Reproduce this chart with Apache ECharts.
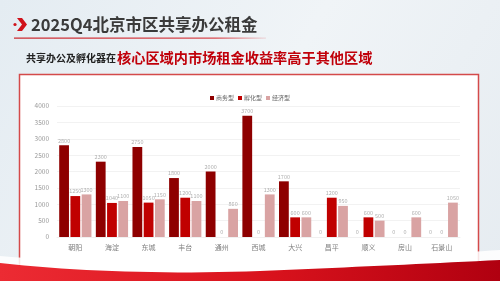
<!DOCTYPE html>
<html>
<head>
<meta charset="utf-8">
<script src="https://cdn.jsdelivr.net/npm/echarts@6/dist/echarts.min.js"></script>
<style>
  html, body { margin: 0; padding: 0; background: #ffffff; }
  #chart { width: 500px; height: 281px; }
</style>
</head>
<body>
<div id="chart"></div>
<script>
// 2025Q4 Beijing shared-office rents by district and type
const districts = ['朝阳', '海淀', '东城', '丰台', '通州', '西城', '大兴', '昌平', '顺义', '房山', '石景山'];
const seriesNames = ['商务型', '孵化型', '经济型'];
const businessRent = [2800, 2300, 2750, 1800, 2000, 3700, 1700, 0, 0, 0, 0];
const incubatorRent = [1250, 1040, 1050, 1200, 0, 0, 600, 1200, 600, 0, 0];
const economyRent = [1300, 1100, 1150, 1100, 860, 1300, 600, 950, 500, 600, 1050];
const yTicks = [0, 500, 1000, 1500, 2000, 2500, 3000, 3500, 4000];

const titleText = '2025Q4北京市区共享办公租金';
const subLead = '共享办公及孵化器在';
const subEmph = '核心区域内市场租金收益率高于其他区域';

const colors = ['#8e0000', '#c00000', '#d9a3a3'];
const font = '"Noto Sans CJK SC", "Noto Sans", sans-serif';

// Closed outline for a wavy band: two quadratic segments along the top, then down to the page bottom.
function waveBand(p0, c1, p1, c2, p2) {
  const pts = [];
  const seg = (a, c, b) => {
    for (let i = 0; i <= 20; i++) {
      const t = i / 20, u = 1 - t;
      pts.push([u * u * a[0] + 2 * u * t * c[0] + t * t * b[0], u * u * a[1] + 2 * u * t * c[1] + t * t * b[1]]);
    }
  };
  seg(p0, c1, p1);
  seg(p1, c2, p2);
  pts.push([500, 281], [0, 281]);
  return pts;
}

const chart = echarts.init(document.getElementById('chart'), null, { renderer: 'canvas' });

const barSeries = [businessRent, incubatorRent, economyRent].map((vals, i) => ({
  name: seriesNames[i],
  type: 'bar',
  data: vals,
  barGap: '15%',
  barCategoryGap: '12%',
  itemStyle: { color: colors[i] },
  label: {
    show: true,
    position: 'top',
    distance: 2,
    fontSize: 5.5,
    color: '#b0b0b0',
    fontFamily: font
  }
}));

chart.setOption({
  animation: false,
  textStyle: { fontFamily: font },
  graphic: [
    // page background
    {
      type: 'rect', z: -10, silent: true,
      shape: { x: 0, y: 0, width: 500, height: 281 },
      style: {
        fill: {
          type: 'linear', x: 0, y: 0, x2: 1, y2: 1,
          colorStops: [
            { offset: 0, color: '#e4ecf2' },
            { offset: 0.5, color: '#f0f4f7' },
            { offset: 1, color: '#e6ecf1' }
          ]
        }
      }
    },
    // white chart panel with red frame
    {
      type: 'rect', z: -9, silent: true,
      shape: { x: 19.5, y: 74.5, width: 459, height: 205 },
      style: { fill: '#ffffff', stroke: '#d44a4a', lineWidth: 1.5 }
    },
    // bottom wave (light sweep)
    {
      type: 'polygon', z: -8, silent: true,
      shape: { points: waveBand([0, 256], [150, 268], [300, 262], [410, 256], [500, 250]) },
      style: { fill: 'rgba(255,255,255,0.85)' }
    },
    // bottom wave (red band)
    {
      type: 'polygon', z: -7, silent: true,
      shape: { points: waveBand([0, 263], [120, 276], [260, 271], [380, 266], [500, 260]) },
      style: {
        fill: {
          type: 'linear', x: 0, y: 0, x2: 1, y2: 0,
          colorStops: [
            { offset: 0, color: '#ec2b33' },
            { offset: 0.55, color: '#d8121c' },
            { offset: 1, color: '#b00010' }
          ]
        }
      }
    },
    // title chevron
    {
      type: 'polygon', silent: true,
      shape: { points: [[17, 18], [22, 18], [27, 24.5], [22, 31], [17, 31], [22, 24.5]] },
      style: { fill: '#d0121b' }
    },
    {
      type: 'circle', silent: true,
      shape: { cx: 15, cy: 24.5, r: 1.6 },
      style: { fill: '#d0121b' }
    },
    // title
    {
      type: 'text', silent: true,
      style: {
        x: 31, y: 24.5, text: titleText, fill: '#3a3a3a',
        font: 'bold 16.5px ' + font, verticalAlign: 'middle'
      }
    },
    // title underline
    {
      type: 'rect', silent: true,
      shape: { x: 14, y: 37.5, width: 252, height: 1.2 },
      style: {
        fill: {
          type: 'linear', x: 0, y: 0, x2: 1, y2: 0,
          colorStops: [
            { offset: 0, color: '#cc2a30' },
            { offset: 0.8, color: '#d84a4f' },
            { offset: 1, color: 'rgba(220,80,85,0.15)' }
          ]
        }
      }
    },
    // subtitle
    {
      type: 'text', silent: true,
      style: {
        x: 26, y: 58.5, text: subLead, fill: '#222222',
        font: 'bold 10px ' + font, verticalAlign: 'middle'
      }
    },
    {
      type: 'text', silent: true,
      style: {
        x: 117, y: 57.5, text: subEmph, fill: '#c0000a',
        font: 'bold 14.2px ' + font, verticalAlign: 'middle'
      }
    }
  ],
  legend: {
    data: seriesNames,
    top: 90,
    left: 'center',
    itemWidth: 4,
    itemHeight: 4,
    itemGap: 4,
    icon: 'rect',
    textStyle: { fontSize: 6, color: '#666666', padding: [0, 0, 0, -3] }
  },
  grid: { left: 57, right: 40, top: 106, bottom: 44, containLabel: false },
  xAxis: {
    type: 'category',
    data: districts,
    axisLine: { show: true, lineStyle: { color: '#f0f0f0' } },
    axisTick: { show: false },
    axisLabel: { fontSize: 7, color: '#808080', margin: 7 }
  },
  yAxis: {
    type: 'value',
    min: yTicks[0],
    max: yTicks[yTicks.length - 1],
    interval: yTicks[1] - yTicks[0],
    axisLine: { show: false },
    axisTick: { show: false },
    axisLabel: { fontSize: 6.5, color: '#999999', margin: 8, formatter: v => String(v) },
    splitLine: { lineStyle: { color: '#f2f2f2', width: 1 } }
  },
  series: barSeries
});
</script>
</body>
</html>
